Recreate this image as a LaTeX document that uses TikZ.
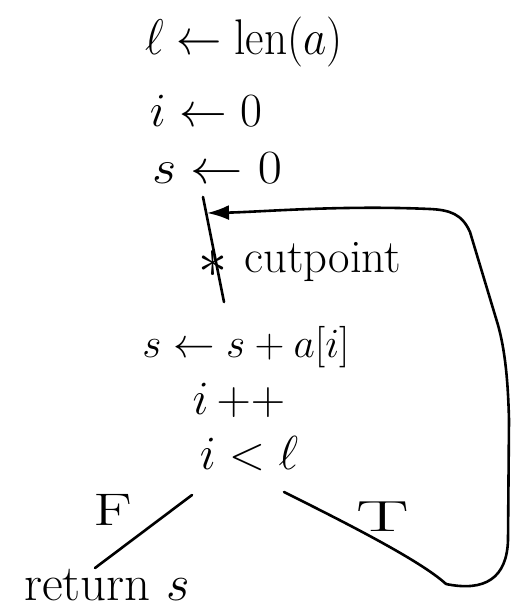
\documentclass[tikz,border=0pt]{standalone}
\usetikzlibrary{arrows.meta}
\begin{document}
\begin{tikzpicture}[x=1pt,y=-1pt,
  hand/.style={line width=2.6pt,line cap=round,line join=round},
  txt/.style={inner sep=0pt,font=\huge,scale=2.3},
  lbl/.style={inner sep=0pt,font=\huge}]
\useasboundingbox (0,0) rectangle (518,611);
% texts
\node[txt,xscale=0.95,yscale=1.05] (len) at (244,42) {$\ell \leftarrow \mathrm{len}(a)$};
\node[txt] (i0) at (206,111) {$i \leftarrow 0$};
\node[txt,xscale=1.1] (s0) at (217,168) {$s \leftarrow 0$};
\node[txt,scale=0.87] (ss) at (246,347) {$s \leftarrow s + a[i]$};
\node[txt] (inc) at (239,400) {$i \,{+}{+}$};
\node[txt] (cond) at (249,454) {$i < \ell$};
\node[lbl,scale=2.45] (ret) at (107,585) {return $s$};
% cutpoint edge
\coordinate (top) at (203,197);
\coordinate (bot) at (224,302);
\coordinate (tip) at (207,213);
\draw[hand] (top) -- (bot);
\node[inner sep=0pt,font=\huge,scale=2.8] (star) at (213,264) {$*$};
\node[lbl,anchor=west,scale=2.25] (cut) at (244,262) {cutpoint};
% branches
\coordinate (fend) at (95,568);
\coordinate (tend) at (446,584);
\coordinate (fstart) at (192,495);
\coordinate (tstart) at (284,492);
\draw[hand] (fstart) -- (fend);
\draw[hand] (tstart) .. controls (340,520) and (420,560) .. (tend);
\node[lbl,xscale=3.1,yscale=2.2] (F) at (113,510) {F};
\node[lbl,xscale=3.8,yscale=2.1] (T) at (383,517) {T};
% loop back
\draw[hand,-{Latex[length=22pt,width=15pt]}] (tend) .. controls (485,592) and (507,578) .. (508,540)
  -- (509,420) .. controls (508,380) and (505,350) .. (498,325)
  -- (470,232) .. controls (462,214) and (450,210) .. (430,209)
  .. controls (340,205) and (260,212) .. (tip);
\end{tikzpicture}
\end{document}
